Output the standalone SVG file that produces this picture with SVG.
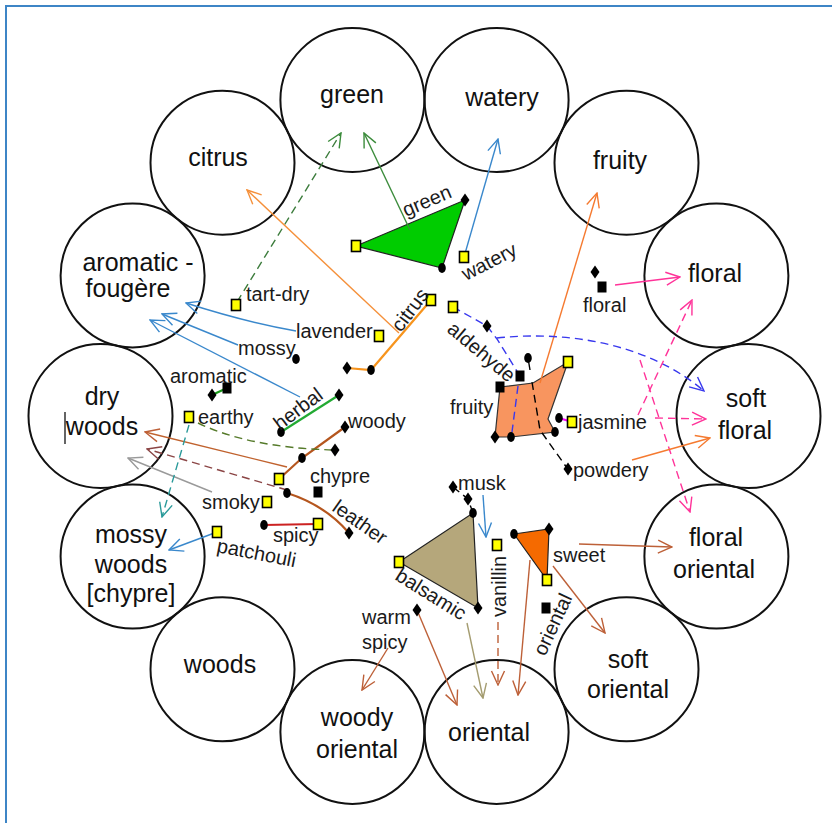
<svg xmlns="http://www.w3.org/2000/svg" xmlns:xlink="http://www.w3.org/1999/xlink" width="832" height="823" viewBox="0 0 832 823">
<style>
.ring circle{fill:none;stroke:#111;stroke-width:2}
.big{font-family:"Liberation Sans",Arial,sans-serif;font-size:25px;fill:#111;text-anchor:middle}
.lbl{font-family:"Liberation Sans",Arial,sans-serif;font-size:20px;fill:#1a1a1a}
.c line,.c path{fill:none;stroke-width:1.4}
.d{stroke-dasharray:8 5}
.seg{fill:none;stroke-width:2.2}
</style>
<defs>
<rect id="ys" x="-4.5" y="-5.5" width="9" height="11" fill="#ffff00" stroke="#000" stroke-width="1.6"/>
<rect id="bs" x="-4.5" y="-5.5" width="9" height="11" fill="#000"/>
<ellipse id="dot" rx="3.8" ry="5" fill="#000"/>
<path id="dia" d="M0,-6.5 L4.5,0 L0,6.5 L-4.5,0Z" fill="#000"/>
<marker id="mGreen" viewBox="0 0 16 16" markerWidth="16" markerHeight="16" refX="15" refY="8" orient="auto" markerUnits="userSpaceOnUse"><path d="M1,1.5 L15,8 L1,14.5" fill="none" stroke="#3c8c3c" stroke-width="1.4"/></marker>
<marker id="mBlue" viewBox="0 0 16 16" markerWidth="16" markerHeight="16" refX="15" refY="8" orient="auto" markerUnits="userSpaceOnUse"><path d="M1,1.5 L15,8 L1,14.5" fill="none" stroke="#3a88cc" stroke-width="1.4"/></marker>
<marker id="mOrange" viewBox="0 0 16 16" markerWidth="16" markerHeight="16" refX="15" refY="8" orient="auto" markerUnits="userSpaceOnUse"><path d="M1,1.5 L15,8 L1,14.5" fill="none" stroke="#f5903a" stroke-width="1.4"/></marker>
<marker id="mOrange2" viewBox="0 0 16 16" markerWidth="16" markerHeight="16" refX="15" refY="8" orient="auto" markerUnits="userSpaceOnUse"><path d="M1,1.5 L15,8 L1,14.5" fill="none" stroke="#f57a30" stroke-width="1.4"/></marker>
<marker id="mPink" viewBox="0 0 16 16" markerWidth="16" markerHeight="16" refX="15" refY="8" orient="auto" markerUnits="userSpaceOnUse"><path d="M1,1.5 L15,8 L1,14.5" fill="none" stroke="#ff3399" stroke-width="1.4"/></marker>
<marker id="mNavy" viewBox="0 0 16 16" markerWidth="16" markerHeight="16" refX="15" refY="8" orient="auto" markerUnits="userSpaceOnUse"><path d="M1,1.5 L15,8 L1,14.5" fill="none" stroke="#3838ee" stroke-width="1.4"/></marker>
<marker id="mBrown" viewBox="0 0 16 16" markerWidth="16" markerHeight="16" refX="15" refY="8" orient="auto" markerUnits="userSpaceOnUse"><path d="M1,1.5 L15,8 L1,14.5" fill="none" stroke="#bd6038" stroke-width="1.4"/></marker>
<marker id="mDarkRed" viewBox="0 0 16 16" markerWidth="16" markerHeight="16" refX="15" refY="8" orient="auto" markerUnits="userSpaceOnUse"><path d="M1,1.5 L15,8 L1,14.5" fill="none" stroke="#8b4545" stroke-width="1.4"/></marker>
<marker id="mGray" viewBox="0 0 16 16" markerWidth="16" markerHeight="16" refX="15" refY="8" orient="auto" markerUnits="userSpaceOnUse"><path d="M1,1.5 L15,8 L1,14.5" fill="none" stroke="#9a9a9a" stroke-width="1.4"/></marker>
<marker id="mTeal" viewBox="0 0 16 16" markerWidth="16" markerHeight="16" refX="15" refY="8" orient="auto" markerUnits="userSpaceOnUse"><path d="M1,1.5 L15,8 L1,14.5" fill="none" stroke="#2a9a9a" stroke-width="1.4"/></marker>
<marker id="mKhaki" viewBox="0 0 16 16" markerWidth="16" markerHeight="16" refX="15" refY="8" orient="auto" markerUnits="userSpaceOnUse"><path d="M1,1.5 L15,8 L1,14.5" fill="none" stroke="#a49c70" stroke-width="1.4"/></marker>
</defs>
<rect width="832" height="823" fill="#fff"/>
<path d="M6,823 V6 H832" fill="none" stroke="#3d85c6" stroke-width="2"/>

<g class="ring">
<g id="c-green"><circle cx="352.4" cy="100" r="72"/><text class="big" x="352" y="103">green</text></g>
<g id="c-watery"><circle cx="496.6" cy="100" r="72"/><text class="big" x="502" y="106">watery</text></g>
<g id="c-citrus"><circle cx="222.5" cy="162.7" r="72"/><text class="big" x="218" y="166">citrus</text></g>
<g id="c-fruity"><circle cx="626.5" cy="162.7" r="72"/><text class="big" x="620" y="169">fruity</text></g>
<g id="c-aromatic"><circle cx="132.6" cy="275.4" r="72"/><text class="big" x="138" y="271">aromatic -</text><text class="big" x="128" y="297">fougère</text></g>
<g id="c-floral"><circle cx="716.4" cy="275.4" r="72"/><text class="big" x="715" y="282">floral</text></g>
<g id="c-drywoods"><circle cx="100.5" cy="416" r="72"/><text class="big" x="102" y="405">dry</text><text class="big" x="102" y="435">woods</text><line x1="65" y1="412" x2="65" y2="444" stroke="#111" stroke-width="1.3"/></g>
<g id="c-softfloral"><circle cx="748.5" cy="416" r="72"/><text class="big" x="746" y="407">soft</text><text class="big" x="745" y="439">floral</text></g>
<g id="c-mossywoods"><circle cx="132.6" cy="556.6" r="72"/><text class="big" x="131" y="543">mossy</text><text class="big" x="131" y="573">woods</text><text class="big" x="131" y="602">[chypre]</text></g>
<g id="c-floraloriental"><circle cx="716.4" cy="556.6" r="72"/><text class="big" x="716" y="546">floral</text><text class="big" x="714" y="578">oriental</text></g>
<g id="c-woods"><circle cx="222.5" cy="669.3" r="72"/><text class="big" x="220" y="673">woods</text></g>
<g id="c-softoriental"><circle cx="626.5" cy="669.3" r="72"/><text class="big" x="628" y="668">soft</text><text class="big" x="628" y="698">oriental</text></g>
<g id="c-woodyoriental"><circle cx="352.4" cy="731.9" r="72"/><text class="big" x="357" y="726">woody</text><text class="big" x="357" y="758">oriental</text></g>
<g id="c-oriental"><circle cx="496.6" cy="731.9" r="72"/><text class="big" x="489" y="741">oriental</text></g>
</g>

<g id="shapes">
<path id="p-green" d="M356,246 L465,200 L442,268 Z" fill="#00cc00" stroke="#222" stroke-width="1.2"/>
<path id="p-fruity" d="M500,387 L533,383 L568,362 L548,419 L555,432 L511,437 L495,437 Z" fill="#f8955f" stroke="#333" stroke-width="1.2"/>
<path id="p-balsamic" d="M399,562 L473,513 L478,608 Z" fill="#b5a77b" stroke="#222" stroke-width="1.2"/>
<path id="p-sweet" d="M514,534 L549,529 L547,580 Z" fill="#f56a00" stroke="#222" stroke-width="1.2"/>
<path d="M431,300 L371,370 L347,368" class="seg" stroke="#f7941d"/>
<path d="M281,432 L339,395" class="seg" stroke="#22aa33"/>
<path d="M212,395 L227,388" class="seg" stroke="#1a9a1a"/>
<path d="M279,479 L302,458 L345,427" class="seg" stroke="#b5561e"/>
<path d="M287,493 Q325,505 349,533" class="seg" stroke="#b5561e"/>
<path d="M264,525 L318,524" class="seg" stroke="#cc2222"/>
<path d="M559,418 L572,422" class="seg" stroke="#ff00ff"/>
</g>

<g id="connectors" class="c">
<line x1="410" y1="230" x2="364" y2="133" stroke="#3c8c3c" marker-end="url(#mGreen)"/>
<line x1="237" y1="302" x2="341" y2="133" stroke="#3c7c3c" class="d" marker-end="url(#mGreen)"/>
<line x1="464" y1="257" x2="498" y2="139" stroke="#3a88cc" marker-end="url(#mBlue)"/>
<line x1="399" y1="333" x2="247" y2="190" stroke="#f5903a" marker-end="url(#mOrange)"/>
<line x1="540" y1="383" x2="597" y2="193" stroke="#f57a30" marker-end="url(#mOrange2)"/>
<line x1="615" y1="285" x2="680" y2="277" stroke="#ff3399" marker-end="url(#mPink)"/>
<path d="M453,307 L487,326 L497,339 L520,376" stroke="#3838ee" class="d"/>
<path d="M518,386 L512,432" stroke="#3838ee" class="d"/>
<path d="M497,338 C570,330 650,345 704,391" stroke="#3838ee" class="d" marker-end="url(#mNavy)"/>
<path d="M528,358 L530,370" stroke="#000"/>
<path d="M532,382 L540,430 L567,468" stroke="#000" class="d"/>
<line x1="655" y1="418" x2="706" y2="419" stroke="#ff3399" class="d" marker-end="url(#mPink)"/>
<line x1="638" y1="415" x2="692" y2="300" stroke="#ff3399" class="d" marker-end="url(#mPink)"/>
<line x1="640" y1="360" x2="690" y2="512" stroke="#ff3399" class="d" marker-end="url(#mPink)"/>
<line x1="632" y1="460" x2="710" y2="438" stroke="#f57a30" marker-end="url(#mOrange2)"/>
<line x1="483" y1="495" x2="486" y2="537" stroke="#3a88cc" marker-end="url(#mBlue)"/>
<path d="M453,487 L468,499 L473,513" stroke="#000" class="d"/>
<line x1="579" y1="544" x2="672" y2="547" stroke="#bd6038" marker-end="url(#mBrown)"/>
<line x1="553" y1="566" x2="605" y2="633" stroke="#bd6038" marker-end="url(#mBrown)"/>
<line x1="530" y1="560" x2="518" y2="695" stroke="#bd6038" marker-end="url(#mBrown)"/>
<line x1="498" y1="622" x2="498" y2="685" stroke="#bd6038" class="d" marker-end="url(#mBrown)"/>
<line x1="467" y1="623" x2="483" y2="698" stroke="#a49c70" marker-end="url(#mKhaki)"/>
<line x1="417" y1="610" x2="457" y2="705" stroke="#bd6038" marker-end="url(#mBrown)"/>
<line x1="388" y1="648" x2="362" y2="690" stroke="#bd6038" marker-end="url(#mBrown)"/>
<line x1="287" y1="467" x2="145" y2="432" stroke="#c0622e" marker-end="url(#mBrown)"/>
<line x1="287" y1="490" x2="147" y2="449" stroke="#8b4545" class="d" marker-end="url(#mDarkRed)"/>
<line x1="212" y1="492" x2="128" y2="458" stroke="#9a9a9a" marker-end="url(#mGray)"/>
<line x1="189" y1="425" x2="162" y2="517" stroke="#2a9a9a" class="d" marker-end="url(#mTeal)"/>
<path d="M198,423 Q250,448 335,450" stroke="#557a2a" class="d"/>
<line x1="217" y1="532" x2="169" y2="550" stroke="#3a88cc" marker-end="url(#mBlue)"/>
<path d="M296,331 Q245,322 186,303" stroke="#3a88cc" marker-end="url(#mBlue)"/>
<line x1="238" y1="345" x2="162" y2="314" stroke="#3a88cc" marker-end="url(#mBlue)"/>
<line x1="300" y1="397" x2="150" y2="320" stroke="#3a88cc" marker-end="url(#mBlue)"/>
</g>

<g id="notes">
<g id="n-green"><use href="#ys" x="356" y="246"/><use href="#dia" x="465" y="200"/><use href="#dot" x="442" y="268"/><text class="lbl" transform="translate(406,217) rotate(-23)">green</text></g>
<g id="n-watery"><use href="#ys" x="464" y="257"/><text class="lbl" transform="translate(466,281) rotate(-27)">watery</text></g>
<g id="n-citrus"><use href="#ys" x="431" y="300"/><use href="#dot" x="371" y="370"/><use href="#dia" x="347" y="368"/><text class="lbl" transform="translate(401,333) rotate(-53)">citrus</text></g>
<g id="n-tartdry"><use href="#ys" x="236" y="305"/><text class="lbl" x="246" y="301">tart-dry</text></g>
<g id="n-lavender"><use href="#ys" x="379" y="336"/><text class="lbl" x="296" y="338">lavender</text></g>
<g id="n-mossy"><use href="#dot" x="296" y="359"/><text class="lbl" x="238" y="355">mossy</text></g>
<g id="n-aromatic"><use href="#dia" x="212" y="395"/><use href="#bs" x="227" y="388"/><text class="lbl" x="170" y="383">aromatic</text></g>
<g id="n-herbal"><use href="#dot" x="281" y="432"/><use href="#dia" x="339" y="395"/><text class="lbl" transform="translate(280,431) rotate(-37)">herbal</text></g>
<g id="n-earthy"><use href="#ys" x="189" y="417"/><use href="#dia" x="335" y="450"/><text class="lbl" x="198" y="424">earthy</text></g>
<g id="n-woody"><use href="#ys" x="279" y="479"/><use href="#dot" x="302" y="458"/><use href="#dia" x="345" y="427"/><text class="lbl" x="348" y="428">woody</text></g>
<g id="n-chypre"><use href="#bs" x="318" y="492"/><text class="lbl" x="310" y="483">chypre</text></g>
<g id="n-leather"><use href="#dot" x="287" y="493"/><use href="#dia" x="349" y="533"/><text class="lbl" transform="translate(331,510) rotate(35)">leather</text></g>
<g id="n-smoky"><use href="#ys" x="267" y="502"/><text class="lbl" x="202" y="509">smoky</text></g>
<g id="n-spicy"><use href="#dot" x="264" y="525"/><use href="#ys" x="318" y="524"/><text class="lbl" x="273" y="542">spicy</text></g>
<g id="n-patchouli"><use href="#ys" x="217" y="532"/><text class="lbl" transform="translate(216,552) rotate(11)">patchouli</text></g>
<g id="n-aldehyde"><use href="#ys" x="453" y="307"/><use href="#dia" x="487" y="326"/><use href="#bs" x="520" y="376"/><text class="lbl" transform="translate(446,331) rotate(40)">aldehyde</text></g>
<g id="n-floral"><use href="#dia" x="595" y="272"/><use href="#bs" x="602" y="287"/><text class="lbl" x="583" y="312">floral</text></g>
<g id="n-fruity"><use href="#bs" x="500" y="387"/><use href="#ys" x="568" y="362"/><use href="#dot" x="528" y="358"/><use href="#dot" x="511" y="437"/><use href="#dot" x="555" y="432"/><use href="#dia" x="495" y="437"/><text class="lbl" x="450" y="414">fruity</text></g>
<g id="n-jasmine"><use href="#dot" x="559" y="418"/><use href="#ys" x="572" y="422"/><text class="lbl" x="578" y="429">jasmine</text></g>
<g id="n-powdery"><use href="#dia" x="568" y="469"/><text class="lbl" x="573" y="477">powdery</text></g>
<g id="n-musk"><use href="#dia" x="453" y="487"/><use href="#dia" x="468" y="499"/><text class="lbl" x="458" y="490">musk</text></g>
<g id="n-balsamic"><use href="#ys" x="399" y="562"/><use href="#dot" x="473" y="513"/><use href="#dia" x="478" y="608"/><text class="lbl" transform="translate(394,579) rotate(32)">balsamic</text></g>
<g id="n-vanillin"><use href="#ys" x="497" y="545"/><text class="lbl" transform="translate(506,617) rotate(-90)">vanillin</text></g>
<g id="n-sweet"><use href="#dot" x="514" y="534"/><use href="#dia" x="549" y="529"/><use href="#ys" x="547" y="580"/><text class="lbl" x="553" y="562">sweet</text></g>
<g id="n-oriental"><use href="#bs" x="546" y="608"/><text class="lbl" transform="translate(545,657) rotate(-65)">oriental</text></g>
<g id="n-warmspicy"><use href="#dia" x="417" y="610"/><text class="lbl" x="362" y="624">warm</text><text class="lbl" x="362" y="649">spicy</text></g>
</g>
</svg>
